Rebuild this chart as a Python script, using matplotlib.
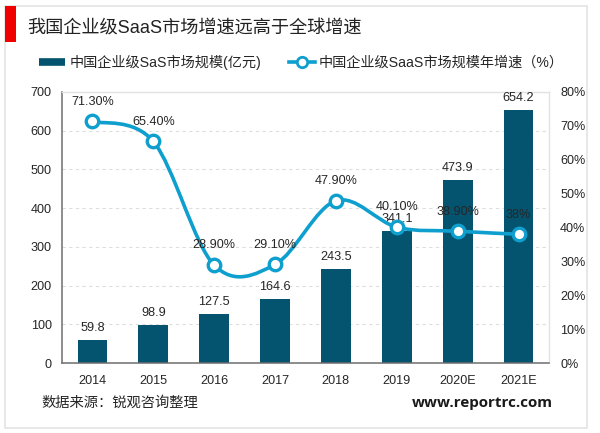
import numpy as np
import matplotlib
matplotlib.use('Agg')
import matplotlib.pyplot as plt
from matplotlib.lines import Line2D
from matplotlib.path import Path
from matplotlib.patches import PathPatch, Rectangle

plt.rcParams['font.family'] = ['Liberation Sans', 'Noto Sans CJK SC', 'DejaVu Sans']

years = ['2014', '2015', '2016', '2017', '2018', '2019', '2020E', '2021E']
market = [59.8, 98.9, 127.5, 164.6, 243.5, 341.1, 473.9, 654.2]
market_labels = ['59.8', '98.9', '127.5', '164.6', '243.5', '341.1', '473.9', '654.2']
growth = [71.3, 65.4, 28.9, 29.1, 47.9, 40.1, 38.9, 38.0]
growth_labels = ['71.30%', '65.40%', '28.90%', '29.10%', '47.90%', '40.10%', '38.90%', '38%']
left_ticks = [0, 100, 200, 300, 400, 500, 600, 700]
right_ticks = [0, 10, 20, 30, 40, 50, 60, 70, 80]

BAR = '#04536F'
LINE = '#0E9FCF'
TXT = '#262626'
W, H = 600, 433

def smooth_path(xs, ys):
    # bezier through the points, like a smoothed office chart line
    xs = np.asarray(xs, float)
    ys = np.asarray(ys, float)
    verts = [(xs[0], ys[0])]
    codes = [Path.MOVETO]
    n = len(xs)
    for i in range(n - 1):
        a = max(i - 1, 0)
        b = min(i + 2, n - 1)
        verts.append((xs[i] + (xs[i + 1] - xs[a]) / 6, ys[i] + (ys[i + 1] - ys[a]) / 6))
        verts.append((xs[i + 1] - (xs[b] - xs[i]) / 6, ys[i + 1] - (ys[b] - ys[i]) / 6))
        verts.append((xs[i + 1], ys[i + 1]))
        codes += [Path.CURVE4] * 3
    return Path(verts, codes)

fig = plt.figure(figsize=(W / 100, H / 100), dpi=100, facecolor='white')

# outer frame and red title mark, kept behind the axes
fig.add_artist(Rectangle((5 / W, 1 - 428 / H), 582 / W, 422 / H, transform=fig.transFigure,
                         fc='white', ec='#E4E4E4', lw=1.2, zorder=-2))
fig.add_artist(Rectangle((5 / W, 1 - 42 / H), 11 / W, 36 / H, transform=fig.transFigure,
                         fc='#F00000', ec='none', zorder=-1))

ax = fig.add_axes([62 / W, 1 - 363 / H, 487 / W, 271 / H])
ax.patch.set_alpha(0)
x = np.arange(len(years))
ax.bar(x, market, width=0.49, color=BAR, zorder=2)
ax.set_xlim(-0.5, len(years) - 0.5)
ax.set_ylim(0, 700)
ax.set_yticks(left_ticks)
ax.set_xticks(x)
ax.set_xticklabels(years)
ax.tick_params(length=0, labelsize=9.1, labelcolor=TXT)
ax.tick_params(axis='x', pad=8.5)
ax.tick_params(axis='y', pad=7.5)
ax.grid(axis='y', color='#DEDEDE', ls=(0, (3, 3)), lw=0.8, zorder=0)
ax.set_axisbelow(True)
for s in ['left', 'bottom']:
    ax.spines[s].set_color('#6E6E6E')
    ax.spines[s].set_linewidth(1.1)
for s in ['top', 'right']:
    ax.spines[s].set_color('#E2E2E2')
    ax.spines[s].set_linewidth(1.0)

for xi, v, t in zip(x, market, market_labels):
    ax.annotate(t, (xi, v), xytext=(0, 8.6), textcoords='offset points', ha='center',
                va='center', fontsize=9.1, color=TXT, zorder=6)

ax2 = ax.twinx()
ax2.patch.set_alpha(0)
ax2.set_ylim(0, 80)
ax2.set_yticks(right_ticks)
ax2.set_yticklabels([f'{t}%' for t in right_ticks])
ax2.tick_params(length=0, labelsize=9.1, labelcolor=TXT, pad=8)
for s in ax2.spines.values():
    s.set_visible(False)

ax2.add_patch(PathPatch(smooth_path(x, growth), fc='none', ec=LINE, lw=2.6, zorder=4))
ax2.plot(x, growth, ls='none', marker='o', ms=9, mfc='white', mec=LINE, mew=2.4, zorder=5)
for xi, v, t in zip(x, growth, growth_labels):
    ax2.annotate(t, (xi, v), xytext=(0, 14.2), textcoords='offset points', ha='center',
                 va='center', fontsize=9.1, color=TXT, zorder=6)

handles = [Line2D([0], [0], color=BAR, lw=5.5, solid_capstyle='butt'),
           Line2D([0], [0], color=LINE, lw=2.6, marker='o', ms=7.5, mfc='white', mec=LINE, mew=2)]
fig.legend(handles, ['中国企业级SaS市场规模(亿元)', '中国企业级SaaS市场规模年增速（%）'], ncol=2,
           loc='center left', bbox_to_anchor=(39 / W, 1 - 62 / H), frameon=False,
           fontsize=10.2, labelcolor=TXT, handlelength=1.85, handletextpad=0.28,
           columnspacing=1.95, borderpad=0, borderaxespad=0)

fig.text(27 / W, 1 - 29 / H, '我国企业级SaaS市场增速远高于全球增速', fontsize=13.1, color='#222222',
         ha='left', va='center')
fig.text(41 / W, 1 - 403 / H, '数据来源：锐观咨询整理', fontsize=10.3, color=TXT, ha='left', va='center')
fig.text(553 / W, 1 - 403 / H, 'www.reportrc.com', fontsize=10.9, fontweight='bold',
         family=['Open Sans', 'DejaVu Sans'], color='#1A1A1A', ha='right', va='center')

fig.savefig('out.png', dpi=100)
